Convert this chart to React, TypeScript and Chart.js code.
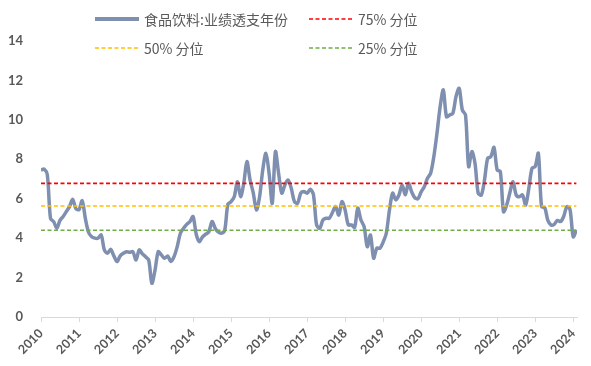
import React, { useEffect, useRef } from 'react';
import { Chart, registerables } from 'chart.js';

Chart.register(...registerables);

const START_YEAR = 2010;
const yearLabels = ['2010', '2011', '2012', '2013', '2014', '2015', '2016', '2017', '2018', '2019', '2020', '2021', '2022', '2023', '2024'];
const yTickValues = [0, 2, 4, 6, 8, 10, 12, 14];

// 食品饮料:业绩透支年份, monthly from 2010-01
const values = [
  7.45, 7.5, 7.2, 5.0, 4.84, 4.5, 4.9, 5.1, 5.35, 5.6,
  5.97, 5.5, 5.45, 5.9, 5.0, 4.3, 4.07, 4.0, 4.0, 4.16,
  3.4, 3.23, 3.43, 3.1, 2.81, 3.1, 3.23, 3.31, 3.28, 3.31,
  2.89, 3.4, 3.2, 3.06, 2.89, 1.71, 2.38, 3.31, 3.15, 2.98,
  3.09, 2.81, 3.06, 3.57, 4.25, 4.5, 4.7, 4.84, 5.09, 4.2,
  3.82, 4.07, 4.2, 4.33, 4.84, 4.5, 4.3, 4.25, 4.41, 5.72,
  5.85, 6.1, 6.86, 6.1, 6.78, 7.88, 6.95, 6.3, 5.43, 6.1,
  7.46, 8.3, 7.29, 5.77, 8.39, 7.29, 6.28, 6.7, 6.95, 6.53,
  5.85, 5.77, 6.28, 6.36, 6.28, 6.48, 6.2, 4.67, 4.5, 4.92,
  5.01, 5.01, 5.3, 5.6, 5.17, 5.85, 5.43, 4.67, 4.67, 4.55,
  5.52, 4.92, 4.58, 3.57, 4.16, 2.98, 3.49, 3.49, 3.8, 4.25,
  5.43, 6.28, 5.94, 6.19, 6.7, 6.2, 6.78, 6.35, 6.05, 6.0,
  6.35, 6.61, 7.04, 7.29, 8.13, 9.32, 10.67, 11.52, 10.16, 10.25,
  10.33, 11.18, 11.6, 10.5, 10.25, 7.63, 8.39, 7.8, 6.28, 6.19,
  6.95, 8.05, 8.13, 8.6, 7.46, 7.38, 5.34, 5.68, 6.3, 6.86,
  6.19, 6.1, 6.19, 5.68, 6.53, 7.55, 7.63, 8.3, 5.6, 5.55,
  4.9, 4.67, 4.7, 4.9, 4.84, 5.1, 5.6, 5.45, 4.07, 4.41,
];

const seriesName = '食品饮料:业绩透支年份';
const pctLabels = ['75% 分位', '50% 分位', '25% 分位'];
const pctValues = [6.78, 5.63, 4.4];
const pctColors = ['#ff0000', '#ffc000', '#70ad47'];
const lineColor = '#7f8fb0';
const textColor = '#595959';

function DashSample({ left, top, color }: { left: number; top: number; color: string }) {
  return (
    <svg style={{ position: 'absolute', left, top: top - 2, width: 44, height: 4 }} width={44} height={4}>
      <line x1={0} y1={2} x2={44} y2={2} stroke={color} strokeWidth={1.6} strokeDasharray="4 2.5" />
    </svg>
  );
}

function LegendText({ left, top, text }: { left: number; top: number; text: string }) {
  return (
    <div
      style={{
        position: 'absolute',
        left,
        top: top - 10,
        height: 20,
        lineHeight: '20px',
        fontSize: 14,
        fontFamily: '"Noto Sans CJK SC", sans-serif',
        color: textColor,
        whiteSpace: 'nowrap',
      }}
    >
      {text}
    </div>
  );
}

export default function App() {
  const ref = useRef<HTMLCanvasElement>(null);

  useEffect(() => {
    document.body.style.margin = '0';
    const pts = values.map((v, i) => ({ x: START_YEAR + i / 12, y: v }));
    const xEnd = START_YEAR + (values.length - 1) / 12;
    const yFont = { family: 'Lato, "Liberation Sans", sans-serif', size: 13, weight: 'bold' as const };
    const xFont = { family: 'Lato, "Liberation Sans", sans-serif', size: 12.5, weight: 'bold' as const };

    const chart = new Chart(ref.current as HTMLCanvasElement, {
      type: 'line',
      data: {
        datasets: [
          {
            label: seriesName,
            data: pts,
            borderColor: lineColor,
            borderWidth: 3.5,
            pointRadius: 0,
            tension: 0.3,
            order: 5,
          },
          ...pctLabels.map((label, k) => ({
            label,
            data: [
              { x: START_YEAR, y: pctValues[k] },
              { x: xEnd, y: pctValues[k] },
            ],
            borderColor: pctColors[k],
            borderWidth: 1.6,
            borderDash: [4, 2.5],
            pointRadius: 0,
            order: 1 + k,
          })),
        ],
      },
      options: {
        animation: false,
        responsive: false,
        maintainAspectRatio: false,
        layout: { padding: { top: 41, right: 14, left: 0, bottom: 0 } },
        plugins: { legend: { display: false }, tooltip: { enabled: false } },
        scales: {
          x: {
            type: 'linear',
            min: START_YEAR,
            max: 2024.1,
            afterBuildTicks: (s: any) => {
              s.ticks = yearLabels.map((y) => ({ value: Number(y) }));
            },
            afterFit: (s: any) => {
              s.height = 49;
            },
            ticks: {
              minRotation: 45,
              maxRotation: 45,
              autoSkip: false,
              padding: 4,
              color: textColor,
              font: xFont,
              callback: (v: any) => String(v),
            },
            grid: { display: true, drawOnChartArea: false, drawTicks: true, tickLength: 5, color: '#d9d9d9' },
            border: { display: true, color: '#d9d9d9', width: 1 },
          },
          y: {
            min: 0,
            max: 14,
            afterBuildTicks: (s: any) => {
              s.ticks = yTickValues.map((v) => ({ value: v }));
            },
            afterFit: (s: any) => {
              s.width = 41;
            },
            ticks: {
              padding: 10,
              color: textColor,
              font: yFont,
              callback: (v: any) => String(v),
            },
            grid: { display: false },
            border: { display: false },
          },
        },
      },
    });
    return () => chart.destroy();
  }, []);

  return (
    <div style={{ position: 'relative', width: 591, height: 366, background: '#fff' }}>
      <canvas ref={ref} width={591} height={366} style={{ position: 'absolute', left: 0, top: 0 }} />
      <div style={{ position: 'absolute', left: 95, top: 17, width: 44, height: 3.5, background: lineColor }} />
      <LegendText left={144} top={19} text={seriesName} />
      <DashSample left={309} top={19} color={pctColors[0]} />
      <LegendText left={358} top={19} text={pctLabels[0]} />
      <DashSample left={95} top={48} color={pctColors[1]} />
      <LegendText left={144} top={48} text={pctLabels[1]} />
      <DashSample left={309} top={48} color={pctColors[2]} />
      <LegendText left={358} top={48} text={pctLabels[2]} />
    </div>
  );
}
